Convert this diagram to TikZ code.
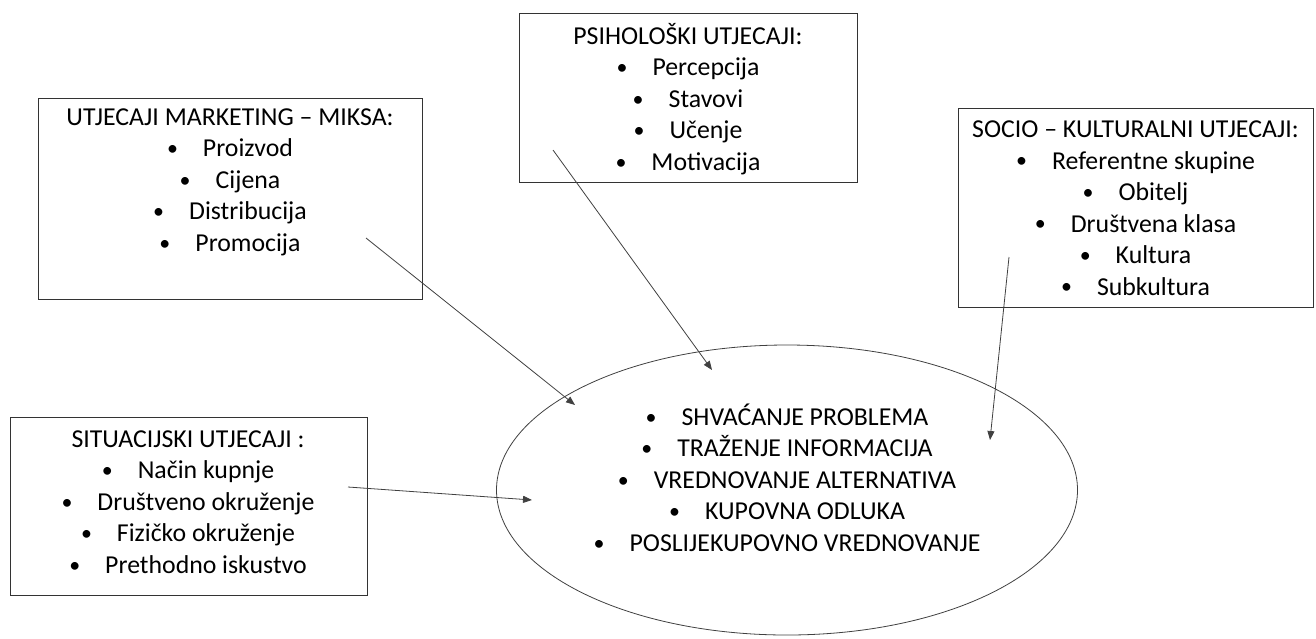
\documentclass[tikz,border=0pt]{standalone}
\usepackage{fontspec}
\usepackage{graphicx}
\setmainfont{Carlito}
\usetikzlibrary{shapes.geometric,arrows.meta}

\newcommand{\itm}[1]{\strut\raisebox{0.05em}{\scalebox{0.85}{\textbullet}}\hspace{0.97em}#1}

\begin{document}
\begin{tikzpicture}[x=1pt,y=-1pt,
    frame/.style={draw=black!80, line width=0.8pt, inner sep=0pt, anchor=north west},
    list/.style={align=center, inner sep=0pt, font=\fontsize{25.8}{31.5}\selectfont},
    link/.style={draw=black!75, line width=0.8pt, -{Triangle[length=9pt,width=7pt]}}]
    \useasboundingbox (0,0) rectangle (1316,638);

    % okviri s utjecajima
    \node[frame, minimum width=384, minimum height=201] (mix) at (38,98) {};
    \node[frame, minimum width=338, minimum height=169] (psy) at (519,13) {};
    \node[frame, minimum width=355, minimum height=199] (soc) at (958,108) {};
    \node[frame, minimum width=357, minimum height=178] (sit) at (10,417) {};
    \node[draw=black!75, line width=0.8pt, ellipse, inner sep=0pt,
          minimum width=581, minimum height=290] (proc) at (787,490) {};

    % tekstovi
    \node[list] (mixtxt) at (230,182) {\strut UTJECAJI MARKETING – MIKSA:\\
        \itm{Proizvod}\\ \itm{Cijena}\\ \itm{Distribucija}\\ \itm{Promocija}};
    \node[list] (psytxt) at (688,101) {\strut PSIHOLOŠKI UTJECAJI:\\
        \itm{Percepcija}\\ \itm{Stavovi}\\ \itm{Učenje}\\ \itm{Motivacija}};
    \node[list] (soctxt) at (1135.5,210) {\strut SOCIO – KULTURALNI UTJECAJI:\\
        \itm{Referentne skupine}\\ \itm{Obitelj}\\ \itm{Društvena klasa}\\
        \itm{Kultura}\\ \itm{Subkultura}};
    \node[list] (sittxt) at (188,504) {\strut SITUACIJSKI UTJECAJI :\\
        \itm{Način kupnje}\\ \itm{Društveno okruženje}\\ \itm{Fizičko okruženje}\\
        \itm{Prethodno iskustvo}};
    \node[list] (proctxt) at (787,482) {\itm{SHVAĆANJE PROBLEMA}\\
        \itm{TRAŽENJE INFORMACIJA}\\ \itm{VREDNOVANJE ALTERNATIVA}\\
        \itm{KUPOVNA ODLUKA}\\ \itm{POSLIJEKUPOVNO VREDNOVANJE}};

    % strelice prema procesu
    \coordinate (mixout) at (366,238);
    \coordinate (psyout) at (553,150);
    \coordinate (socout) at (1009,257);
    \coordinate (sitout) at (348,487);
    \coordinate (procmix) at (575,405);
    \coordinate (procpsy) at (712,370);
    \coordinate (procsoc) at (990,440);
    \coordinate (procsit) at (532,500);
    \draw[link] (mixout) -- (procmix);
    \draw[link] (psyout) -- (procpsy);
    \draw[link] (socout) -- (procsoc);
    \draw[link] (sitout) -- (procsit);
\end{tikzpicture}
\end{document}
